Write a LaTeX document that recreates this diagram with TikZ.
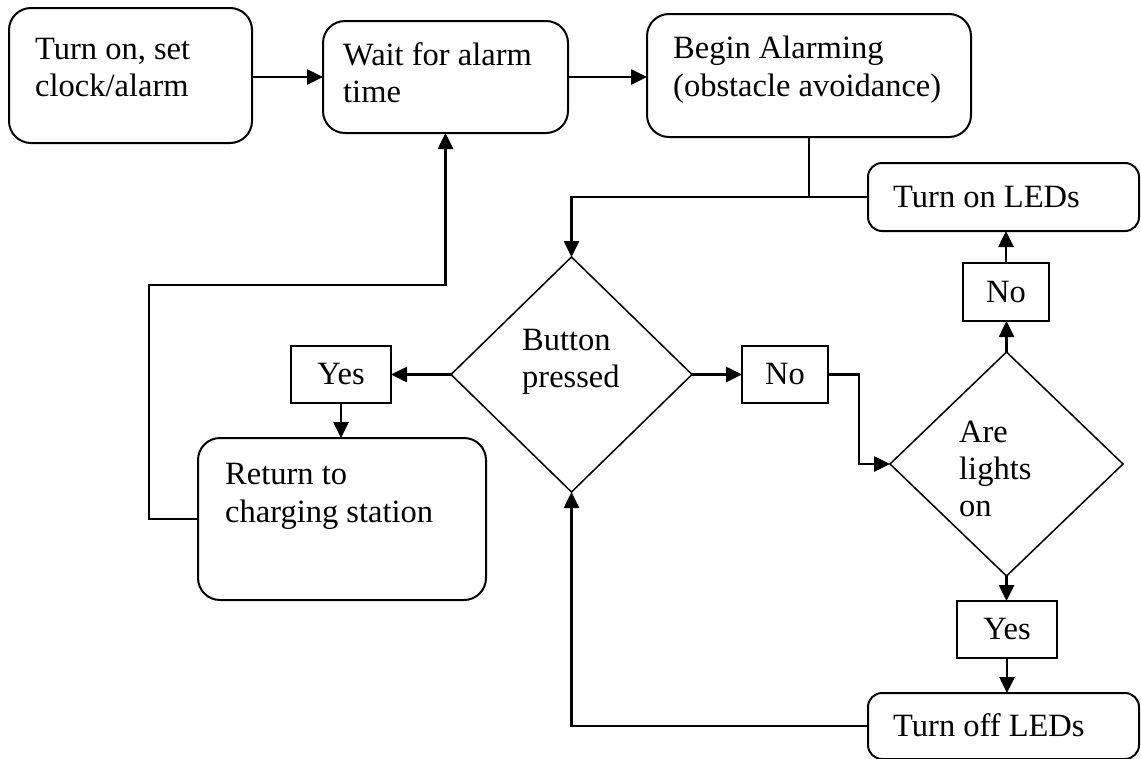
\documentclass[tikz,border=0pt]{standalone}
\usepackage{fontspec}
\setmainfont{Liberation Serif}
\usetikzlibrary{shapes.geometric,arrows.meta}
\newcommand\fsz{\fontsize{32.5}{37}\selectfont}
\begin{document}
\begin{tikzpicture}[x=1pt,y=-1pt,
  rbox/.style={draw,rounded corners=22pt,line width=2pt,inner sep=0pt,outer sep=0pt},
  lbox/.style={rbox,rounded corners=14pt},
  sbox/.style={draw,line width=2pt,inner sep=0pt,outer sep=0pt,font=\fsz},
  dia/.style={draw,diamond,line width=1.5pt,inner sep=0pt,outer sep=0pt},
  txt/.style={font=\fsz,inner sep=0pt,anchor=base west},
  conn/.style={line width=2.6pt},
  arr/.style={conn,-{Triangle[length=16pt,width=15pt]}}]
\useasboundingbox (0,0) rectangle (1141,758);
\fill[white] (0,0) rectangle (1141,758);
\clip (0,0) rectangle (1141,758);

% boxes
\node[rbox,minimum width=243pt,minimum height=135pt] (turnon) at (130.5,75.5) {};
\node[rbox,minimum width=245pt,minimum height=112pt] (wait) at (445.5,77) {};
\node[rbox,minimum width=324pt,minimum height=123pt] (begin) at (809,75.5) {};
\node[lbox,minimum width=271pt,minimum height=68pt] (ledson) at (1003.5,197) {};
\node[rbox,minimum width=288pt,minimum height=162pt] (ret) at (342,519) {};
\node[lbox,minimum width=271pt,minimum height=66pt] (turnoff) at (1003.5,726) {};
\node[sbox,minimum width=100pt,minimum height=57pt] (yes1) at (341,374.5) {Yes};
\node[sbox,minimum width=86pt,minimum height=57pt] (no1) at (785,374.5) {No};
\node[sbox,minimum width=86pt,minimum height=58pt] (no2) at (1006,292) {No};
\node[sbox,minimum width=100pt,minimum height=57pt] (yes2) at (1007,629.5) {Yes};
\node[dia,minimum width=241pt,minimum height=235pt] (button) at (571.5,374.5) {};
\node[dia,minimum width=233pt,minimum height=224pt] (are) at (1006.5,464) {};

% texts
\node[txt] (t1a) at (35,59) {Turn on, set};
\node[txt] (t1b) at (35,96) {clock/alarm};
\node[txt] (t2a) at (343,65) {Wait for alarm};
\node[txt] (t2b) at (343,102) {time};
\node[txt] (t3a) at (673,58) {Begin Alarming};
\node[txt] (t3b) at (673,96) {(obstacle avoidance)};
\node[txt] (t4) at (893,207) {Turn on LEDs};
\node[txt] (t5a) at (522,350) {Button};
\node[txt] (t5b) at (522,387) {pressed};
\node[txt] (t6a) at (225,484) {Return to};
\node[txt] (t6b) at (225,522) {charging station};
\node[txt] (t7a) at (959,442) {Are};
\node[txt] (t7b) at (959,479) {lights};
\node[txt] (t7c) at (959,516) {on};
\node[txt] (t8) at (893,736) {Turn off LEDs};

% connectors
\draw[arr] (turnon.east |- wait.west) -- (wait.west);
\draw[arr] (wait.east) -- (wait.east -| begin.west);
\draw[conn] (begin.south) -- (begin.south |- ledson.west);
\draw[arr] (ledson.west) -| (button.north);
\draw[arr] (button.west) -- (yes1.east |- button.west);
\draw[arr] (yes1.south) -- (yes1.south |- ret.north);
\draw[arr] (ret.west) -| (149,285) -| (wait.south);
\draw[arr] (button.east) -- (no1.west |- button.east);
\draw[arr] (no1.east) -- ++(31,0) |- (are.west);
\draw[arr] (are.north) -- (are.north |- no2.south);
\draw[arr] (no2.north) -- (no2.north |- ledson.south);
\draw[arr] (are.south) -- (are.south |- yes2.north);
\draw[arr] (yes2.south) -- (yes2.south |- turnoff.north);
\draw[arr] (turnoff.west) -| (button.south);
\end{tikzpicture}
\end{document}
